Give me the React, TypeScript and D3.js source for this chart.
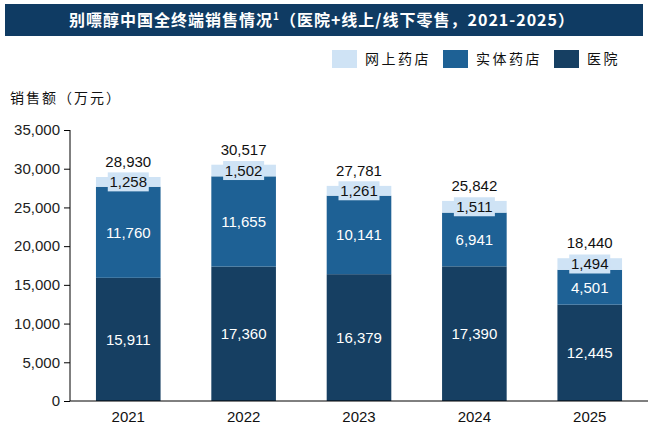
import React, { useEffect, useRef } from 'react';
import * as d3 from 'd3';

const years = ['2021', '2022', '2023', '2024', '2025'];
const hospital = [15911, 17360, 16379, 17390, 12445];
const retailStore = [11760, 11655, 10141, 6941, 4501];
const online = [1258, 1502, 1261, 1511, 1494];
const totals = [28930, 30517, 27781, 25842, 18440];
const yTicks = [0, 5000, 10000, 15000, 20000, 25000, 30000, 35000];

const seriesKeys = ['hospital', 'retail', 'online'];
const seriesNames = ['医院', '实体药店', '网上药店'];
const colors = ['#163F62', '#1E6195', '#CFE3F5'];

const W = 648;
const H = 425;
const NUM_FONT = '"Liberation Sans", Arial, sans-serif';
const CJK_FONT = '"Noto Sans CJK SC", sans-serif';

export default function App() {
  const svgRef = useRef<SVGSVGElement>(null);

  useEffect(() => {
    if (!svgRef.current) return;
    const svg = d3.select(svgRef.current);
    svg.selectAll('*').remove();

    const fmt = d3.format(',');

    const x = d3
      .scaleBand<string>()
      .domain(years)
      .range([70, 648])
      .paddingInner(0.44)
      .paddingOuter(0.225);

    const y = d3.scaleLinear().domain([0, 35000]).range([401, 130]);

    const rows = years.map((yr, i) => ({
      year: yr,
      hospital: hospital[i],
      retail: retailStore[i],
      online: online[i],
    }));
    const stacked = d3.stack<any>().keys(seriesKeys)(rows);

    // title bar
    svg
      .append('rect')
      .attr('x', 5)
      .attr('y', 4)
      .attr('width', 638)
      .attr('height', 32)
      .attr('fill', '#0F3B63');
    const title = svg
      .append('text')
      .attr('x', 322)
      .attr('y', 26)
      .attr('text-anchor', 'middle')
      .attr('fill', '#fff')
      .attr('font-family', CJK_FONT)
      .attr('font-weight', 700)
      .attr('font-size', 16)
      .attr('letter-spacing', 1);
    title.append('tspan').text('别嘌醇中国全终端销售情况');
    title.append('tspan').attr('font-size', 10).attr('dy', -6).text('1');
    title.append('tspan').attr('dy', 6).text('（医院+线上/线下零售，2021-2025）');

    // legend
    const legendItems = [
      { name: seriesNames[2], color: colors[2], x: 332 },
      { name: seriesNames[1], color: colors[1], x: 443 },
      { name: seriesNames[0], color: colors[0], x: 554 },
    ];
    legendItems.forEach((d) => {
      svg
        .append('rect')
        .attr('x', d.x)
        .attr('y', 50)
        .attr('width', 25)
        .attr('height', 18)
        .attr('fill', d.color);
      svg
        .append('text')
        .attr('x', d.x + 33)
        .attr('y', 64)
        .attr('font-family', CJK_FONT)
        .attr('font-size', 14)
        .attr('letter-spacing', 2.5)
        .attr('fill', '#111')
        .text(d.name);
    });

    // y axis title
    svg
      .append('text')
      .attr('x', 10)
      .attr('y', 103)
      .attr('font-family', CJK_FONT)
      .attr('font-size', 14)
      .attr('letter-spacing', 2)
      .attr('fill', '#111')
      .text('销售额（万元）');

    // bars
    stacked.forEach((layer, li) => {
      svg
        .append('g')
        .selectAll('rect')
        .data(layer)
        .enter()
        .append('rect')
        .attr('x', (d: any) => x(d.data.year)!)
        .attr('width', x.bandwidth())
        .attr('y', (d: any) => y(d[1]))
        .attr('height', (d: any) => y(d[0]) - y(d[1]))
        .attr('fill', colors[li]);
    });

    // inner labels
    stacked.forEach((layer, li) => {
      layer.forEach((d: any) => {
        const cx = x(d.data.year)! + x.bandwidth() / 2;
        const cy = (y(d[0]) + y(d[1])) / 2;
        const val = d[1] - d[0];
        if (li === 2) {
          const bw = 41;
          svg
            .append('rect')
            .attr('x', cx - bw / 2)
            .attr('y', cy - 9.5)
            .attr('width', bw)
            .attr('height', 19)
            .attr('fill', colors[2]);
        }
        svg
          .append('text')
          .attr('x', cx)
          .attr('y', cy)
          .attr('dy', '0.36em')
          .attr('text-anchor', 'middle')
          .attr('font-family', NUM_FONT)
          .attr('font-size', 15)
          .attr('fill', li === 2 ? '#111' : '#fff')
          .text(fmt(val));
      });
    });

    // totals
    svg
      .append('g')
      .selectAll('text')
      .data(years)
      .enter()
      .append('text')
      .attr('x', (d) => x(d)! + x.bandwidth() / 2)
      .attr('y', (d, i) => y(hospital[i] + retailStore[i] + online[i]) - 10)
      .attr('text-anchor', 'middle')
      .attr('font-family', NUM_FONT)
      .attr('font-size', 15)
      .attr('fill', '#111')
      .text((d, i) => fmt(totals[i]));

    // y axis
    const yAxis = svg
      .append('g')
      .attr('transform', 'translate(70,0)')
      .call(
        d3
          .axisLeft(y)
          .tickValues(yTicks)
          .tickFormat((d) => fmt(d as number))
          .tickSize(6)
          .tickPadding(4)
      );
    yAxis.select('.domain').attr('stroke', '#000').attr('d', 'M0,130V401');
    yAxis.selectAll('line').attr('stroke', '#000');
    yAxis
      .selectAll('text')
      .attr('font-family', NUM_FONT)
      .attr('font-size', 15)
      .attr('fill', '#222');

    // x axis
    const xAxis = svg
      .append('g')
      .attr('transform', 'translate(0,401)')
      .call(d3.axisBottom(x).tickSize(0).tickPadding(10));
    xAxis.select('.domain').attr('stroke', '#000').attr('d', 'M70,0H648');
    xAxis
      .selectAll('text')
      .attr('font-family', NUM_FONT)
      .attr('font-size', 15)
      .attr('fill', '#111');
  }, []);

  return (
    <svg
      ref={svgRef}
      width={W}
      height={H}
      style={{ position: 'absolute', left: 0, top: 0, background: '#fff' }}
    />
  );
}
